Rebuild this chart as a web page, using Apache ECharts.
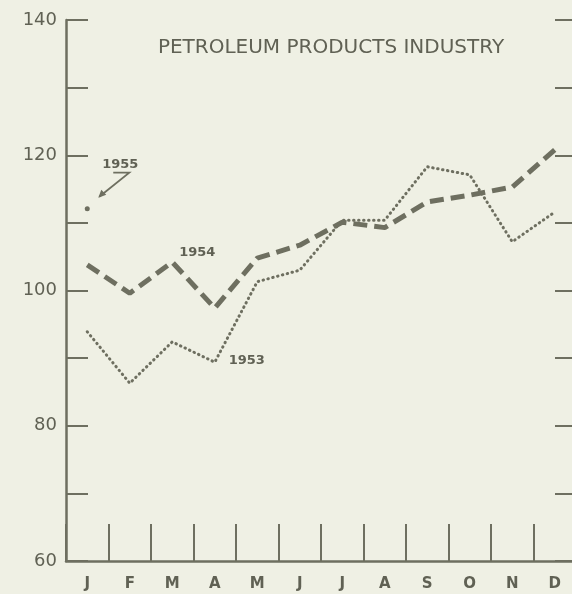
<!DOCTYPE html>
<html>
<head>
<meta charset="utf-8">
<script src="https://cdn.jsdelivr.net/npm/echarts@6/dist/echarts.min.js"></script>
<style>
html,body{margin:0;padding:0;background:#eff0e4;overflow:hidden;}
#c{width:572px;height:594px;}
</style>
</head>
<body>
<div id="c"></div>
<script>
var months = ['J','F','M','A','M','J','J','A','S','O','N','D'];
var s1953 = [93.9, 86.3, 92.4, 89.4, 101.3, 103.0, 110.4, 110.4, 118.3, 117.1, 107.2, 111.6];
var s1954 = [103.8, 99.6, 104.2, 97.4, 104.8, 106.7, 110.1, 109.3, 113.1, 114.1, 115.3, 120.8];
var s1955 = [112.1, null, null, null, null, null, null, null, null, null, null, null];
var yTicks = [60, 80, 100, 120, 140];
var titleText = 'PETROLEUM PRODUCTS INDUSTRY';

var ink = '#6e6f60';
var txt = '#606154';
var chart = echarts.init(document.getElementById('c'));
var font = 'DejaVu Sans';

chart.setOption({
  backgroundColor: '#eff0e4',
  animation: false,
  title: {
    text: titleText,
    left: 326, top: 33, textAlign: 'center',
    textStyle: {color: txt, fontFamily: font, fontSize: 20, fontWeight: 'normal'}
  },
  grid: {left: 66, width: 510, top: 20, bottom: 33, outerBoundsMode: 'none', containLabel: false},
  xAxis: {
    type: 'category', data: months, boundaryGap: true,
    axisLine: {lineStyle: {color: ink, width: 2.5}},
    axisTick: {show: true, inside: true, length: 37, interval: 0, lineStyle: {color: ink, width: 2}},
    axisLabel: {color: txt, fontFamily: font, fontSize: 15, fontWeight: 'bold', margin: 16, interval: 0}
  },
  yAxis: [{
    type: 'value', min: 60, max: 140, interval: 10, position: 'left',
    splitLine: {show: false},
    axisLine: {show: true, lineStyle: {color: ink, width: 2.5}},
    axisTick: {show: true, inside: true, length: 22, lineStyle: {color: ink, width: 2}},
    axisLabel: {color: txt, fontFamily: font, fontSize: 18, margin: 9,
      formatter: function (v) { return yTicks.indexOf(v) >= 0 ? String(v) : ''; }}
  }, {
    type: 'value', min: 60, max: 140, interval: 10, position: 'right',
    splitLine: {show: false},
    axisLine: {show: false},
    axisTick: {show: true, inside: true, length: 21, lineStyle: {color: ink, width: 2}},
    axisLabel: {show: false}
  }],
  series: [{
    name: '1953', type: 'line', data: s1953, symbol: 'none',
    lineStyle: {color: ink, width: 3, type: [0.5, 4.5], cap: 'round'}
  }, {
    name: '1954', type: 'line', data: s1954, symbol: 'none',
    lineStyle: {color: ink, width: 5, type: [14, 7], cap: 'butt'}
  }, {
    name: '1955', type: 'line', data: s1955, symbol: 'circle', symbolSize: 5,
    itemStyle: {color: ink}, lineStyle: {width: 0}
  }]
});

function px(i, v) { return chart.convertToPixel({xAxisIndex: 0, yAxisIndex: 0}, [i, v]); }
var p55 = px(0, s1955[0]);
var p54 = px(2, s1954[2]);
var p53 = px(3, s1953[3]);
var tStyle = {fill: txt, font: 'bold 13px "DejaVu Sans"'};
chart.setOption({
  graphic: [
    {type: 'text', x: p55[0] + 33, y: p55[1] - 44, style: Object.assign({text: '1955', textAlign: 'center', textVerticalAlign: 'middle'}, tStyle)},
    {type: 'polyline', shape: {points: [[p55[0] + 26, p55[1] - 36], [p55[0] + 42, p55[1] - 36], [p55[0] + 12, p55[1] - 12]]},
      style: {stroke: ink, lineWidth: 1.8, fill: null}},
    {type: 'polygon', shape: {points: [[p55[0] + 11, p55[1] - 11], [p55[0] + 14, p55[1] - 19], [p55[0] + 19, p55[1] - 14]]},
      style: {fill: ink}},
    {type: 'text', x: p54[0] + 25, y: p54[1] - 9, style: Object.assign({text: '1954', textAlign: 'center', textVerticalAlign: 'middle'}, tStyle)},
    {type: 'text', x: p53[0] + 32, y: p53[1] - 2, style: Object.assign({text: '1953', textAlign: 'center', textVerticalAlign: 'middle'}, tStyle)}
  ]
});
</script>
</body>
</html>
